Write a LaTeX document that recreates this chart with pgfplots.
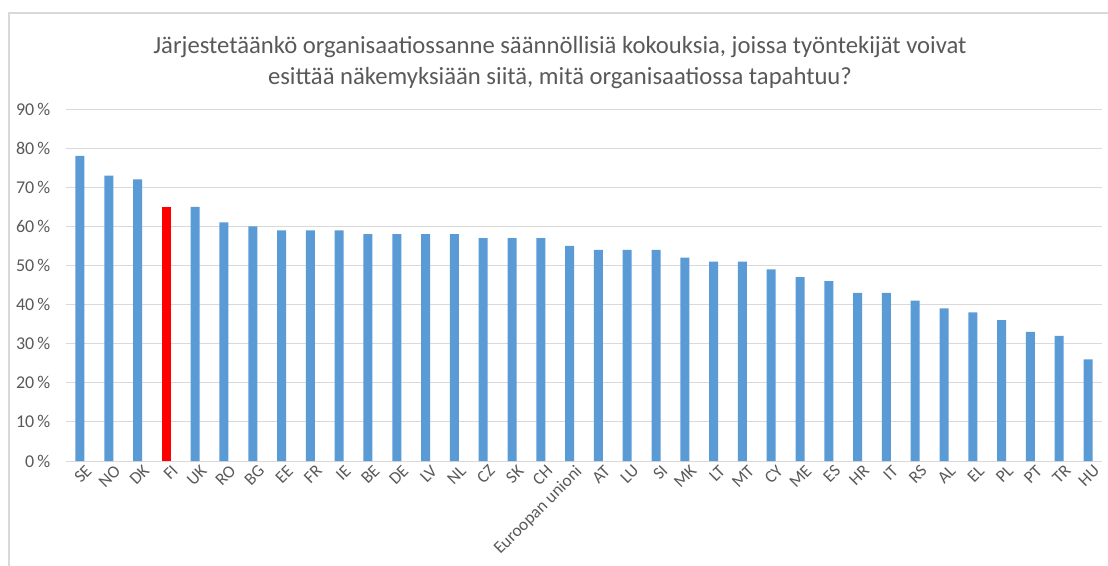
\documentclass[border=0pt]{standalone}
\usepackage{pgfplots}
\pgfplotsset{compat=1.18}
\usepackage{fontspec}
\setmainfont{Carlito}
\definecolor{barblue}{HTML}{5B9BD5}
\definecolor{txtgray}{HTML}{595959}
\definecolor{gridgray}{HTML}{D9D9D9}
\definecolor{framegray}{HTML}{D9D9D9}
\begin{document}
\begin{tikzpicture}
\path[use as bounding box] (0,0) rectangle (831pt,423.75pt);
\draw[framegray, line width=1.2pt] (6.75pt,-5pt) -- (6.75pt,414pt) -- (840pt,414pt);
\node[text=txtgray, align=center, font=\fontsize{18.5}{23.5}\selectfont] at (420pt,377pt)
  {Järjestetäänkö organisaatiossanne säännöllisiä kokouksia, joissa työntekijät voivat\\
   esittää näkemyksiään siitä, mitä organisaatiossa tapahtuu?};
\begin{axis}[
  at={(49.2pt,78pt)}, anchor=south west,
  scale only axis, width=777.6pt, height=264pt,
  xmin=-0.5, xmax=35.5, ymin=0, ymax=90,
  ybar, bar width=6.75pt,
  xtick={0,...,35},
  xticklabels={SE,NO,DK,FI,UK,RO,BG,EE,FR,IE,BE,DE,LV,NL,CZ,SK,CH,Euroopan unioni,AT,LU,SI,MK,LT,MT,CY,ME,ES,HR,IT,RS,AL,EL,PL,PT,TR,HU},
  x tick label style={rotate=45, anchor=north east, font=\fontsize{13}{14}\selectfont, text=txtgray, inner sep=1pt, yshift=-3pt, xshift=2pt},
  ytick={0,10,...,90},
  yticklabel={\pgfmathprintnumber{\tick}\,\%},
  /pgf/number format/assume math mode=true,
  y tick label style={font=\fontsize{13.5}{14}\selectfont, text=txtgray, xshift=-8pt},
  major tick length=0pt,
  ymajorgrids, grid style={gridgray, line width=0.75pt},
  axis y line=left, y axis line style={draw=none},
  axis x line=bottom, x axis line style={draw=gridgray, line width=0.75pt, -},
  clip=false,
]
\addplot[fill=barblue, draw=none, bar shift=0pt] coordinates {
(0,78) (1,73) (2,72) (4,65) (5,61) (6,60) (7,59) (8,59) (9,59) (10,58) (11,58) (12,58) (13,58) (14,57) (15,57) (16,57) (17,55) (18,54) (19,54) (20,54) (21,52) (22,51) (23,51) (24,49) (25,47) (26,46) (27,43) (28,43) (29,41) (30,39) (31,38) (32,36) (33,33) (34,32) (35,26)
};
\addplot[fill=red, draw=none, bar shift=0pt] coordinates {(3,65)};
\end{axis}
\end{tikzpicture}
\end{document}
